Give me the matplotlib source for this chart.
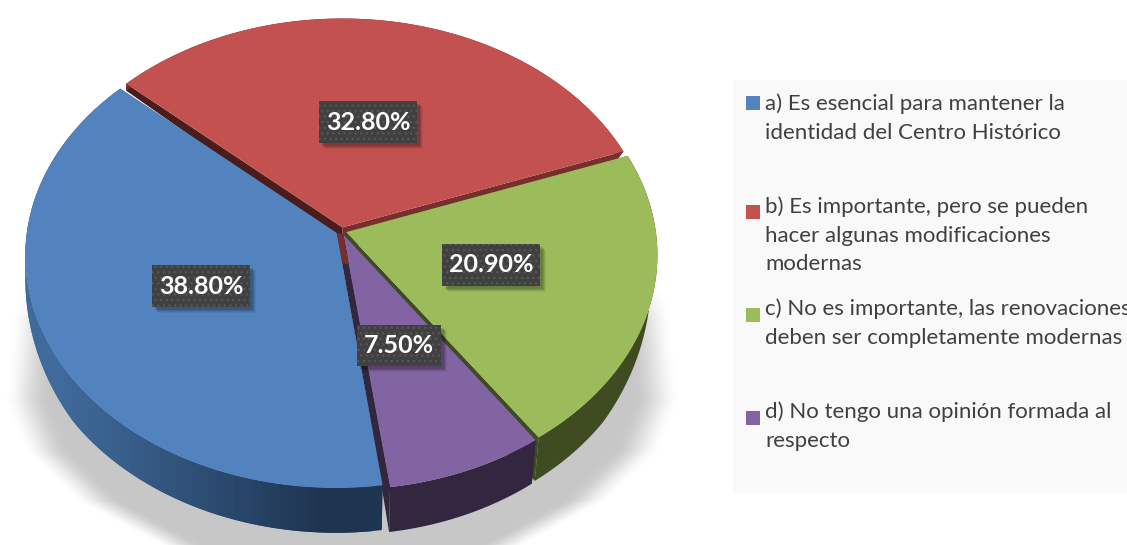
import numpy as np
import matplotlib
matplotlib.use('Agg')
import matplotlib.pyplot as plt
import matplotlib.transforms as mtransforms
from matplotlib.patches import Rectangle

# chart values
values = [38.8, 32.8, 20.9, 7.5]
labels = ['a) Es esencial para mantener la\nidentidad del Centro Histórico',
          'b) Es importante, pero se pueden\nhacer algunas modificaciones\nmodernas',
          'c) No es importante, las renovaciones\ndeben ser completamente modernas',
          'd) No tengo una opinión formada al\nrespecto']
colors = ['#5283bf', '#c25150', '#9cbb5a', '#8264a3']
wall_start = ['#3f6a9b', '#772e2d', '#3f4b20', '#33263f']
wall_end = ['#1e3450', '#4a1d1b', '#3f4b20', '#33263f']

W, H = 1127, 545
cx, cy, rx, ry = 341.5, 253.5, 311.0, 232.0
k = 0.097  # moves the pie centre back, perspective


def project(pts):
    pts = np.asarray(pts, dtype=float)
    x, y = pts[..., 0], pts[..., 1]
    den = 1 + k*y
    xp = x*np.sqrt(1 - k**2)/den
    yp = (y + k)/den
    return np.stack([cx + rx*xp, cy - ry*yp], axis=-1)


def lower(px):
    # top face pixel -> same point on the bottom face
    d = np.interp(px[..., 1], [80, 200, 253, 380, 490], [7, 8, 22, 42, 45])
    s = np.where(px[..., 0] > cx, 0.98, 1.0)
    return np.stack([cx + (px[..., 0] - cx)*s, px[..., 1] + d], axis=-1)


class Persp(mtransforms.Transform):
    input_dims = 2
    output_dims = 2

    def transform_non_affine(self, values):
        return project(values)


fig = plt.figure(figsize=(W/100, H/100), dpi=100, facecolor='white')
ax = fig.add_axes([0, 0, 1, 1])
plt.rcParams['hatch.linewidth'] = 1.0

wedges, _ = ax.pie(values, colors=colors, explode=[0.018, 0.016, 0.016, 0.016], startangle=-82.2,
                   counterclock=False, radius=1.0, wedgeprops={'linewidth': 0})
ax.set_aspect('auto')

# soft floor shadow
yy, xx = np.mgrid[0:H, 0:W]
half = np.interp(yy, [250, 300, 400, 450, 500, 545], [305, 330, 340, 320, 268, 185])
t = np.clip((half - np.abs(xx - 341.5))/48.0, 0, 1)*np.clip((yy - 250)/70.0, 0, 1)
alpha = 0.22*t*t*(3 - 2*t)
shadow = np.zeros((H, W, 4))
shadow[..., 3] = alpha
ax.imshow(shadow, extent=(0, W, H, 0), zorder=1, aspect='auto')
ax.set_xlim(0, W)
ax.set_ylim(H, 0)
ax.axis('off')

persp = Persp() + ax.transData
order = [1, 2, 3, 0]  # back to front
for n, i in enumerate(order):
    w = wedges[i]
    z = 2 + 2*n
    w.set_transform(persp)
    w.set_zorder(z + 1)
    c = np.array(w.center)

    t1, t2 = np.radians(w.theta1), np.radians(w.theta2)
    for th, col in [(t1, wall_start[i]), (t2, wall_end[i])]:
        rim = c + np.array([np.cos(th), np.sin(th)])
        top = project(np.array([c, rim]))
        bot = lower(top)
        ax.fill([top[0, 0], top[1, 0], bot[1, 0], bot[0, 0]],
                [top[0, 1], top[1, 1], bot[1, 1], bot[0, 1]],
                color=col, lw=0, zorder=z)

    # outer wall, shaded along x
    th = np.linspace(t1, t2, 90)
    top = project(np.stack([c[0] + np.cos(th), c[1] + np.sin(th)], axis=-1))
    bot = lower(top)
    c0 = np.array(matplotlib.colors.to_rgb(wall_start[i]))
    c1 = np.array(matplotlib.colors.to_rgb(wall_end[i]))
    if i == 0:
        for j in range(len(th) - 2):
            f = np.clip((top[j, 0] - 60)/260.0, 0, 1)
            col = c0*(1 - f) + c1*f
            ax.fill([top[j, 0], top[j+2, 0], bot[j+2, 0], bot[j, 0]],
                    [top[j, 1], top[j+2, 1], bot[j+2, 1], bot[j, 1]],
                    color=col, lw=0, zorder=z)
    else:
        ax.fill(np.r_[top[:, 0], bot[::-1, 0]], np.r_[top[:, 1], bot[::-1, 1]],
                color=c0, lw=0, zorder=z)

# dark slot between the blue and purple slices, red at the hub
wb, wp = wedges[0], wedges[3]
thb, thp = np.radians(wb.theta2), np.radians(wp.theta1)
cb, cp = np.array(wb.center), np.array(wp.center)
rimb = cb + np.array([np.cos(thb), np.sin(thb)])
rimp = cp + np.array([np.cos(thp), np.sin(thp)])
slot = project(np.array([cb, rimb, rimp, cp]))
ax.fill(slot[:, 0], slot[:, 1], color=wall_start[3], lw=0, zorder=7.5)
hub = project(np.array([cb, cb + 0.13*(rimb - cb), cp + 0.13*(rimp - cp), cp]))
ax.fill(hub[:, 0], hub[:, 1], color=wall_start[1], lw=0, zorder=7.6)

# data labels
label_boxes = [(152, 265, 98, 42), (319, 101, 98, 42), (442, 244, 98, 42), (357, 325, 84, 41)]
for v, (bx, by, bw, bh) in zip(values, label_boxes):
    for off, a in [(6, 0.06), (5, 0.08), (4, 0.1), (3, 0.12)]:
        ax.add_patch(Rectangle((bx + off, by + off), bw, bh, fc='black', ec='none', alpha=a, zorder=19))
    ax.add_patch(Rectangle((bx, by), bw, bh, fc='#404040', ec='#565656', hatch='...', lw=0, zorder=20))
    ax.text(bx + bw/2, by + bh/2, f'{v:.2f}%', color='white', fontsize=18, fontweight='bold',
            family='Lato', ha='center', va='center', zorder=21)

# legend
ax.add_patch(Rectangle((733, 80), W - 733, 413, fc='#f9f9f9', ec='none', zorder=1))
legend_y = [118.5, 235.5, 323.5, 426.5]
square_y = [96, 205, 308, 411]
for lab, col, ly, sy in zip(labels, colors, legend_y, square_y):
    ax.add_patch(Rectangle((746, sy), 14, 14, fc=col, ec='none', zorder=3))
    ax.text(765, ly, lab, color='#404040', fontsize=16, family='Lato',
            ha='left', va='center', linespacing=1.54, zorder=3)

fig.savefig('out.png', dpi=100)
